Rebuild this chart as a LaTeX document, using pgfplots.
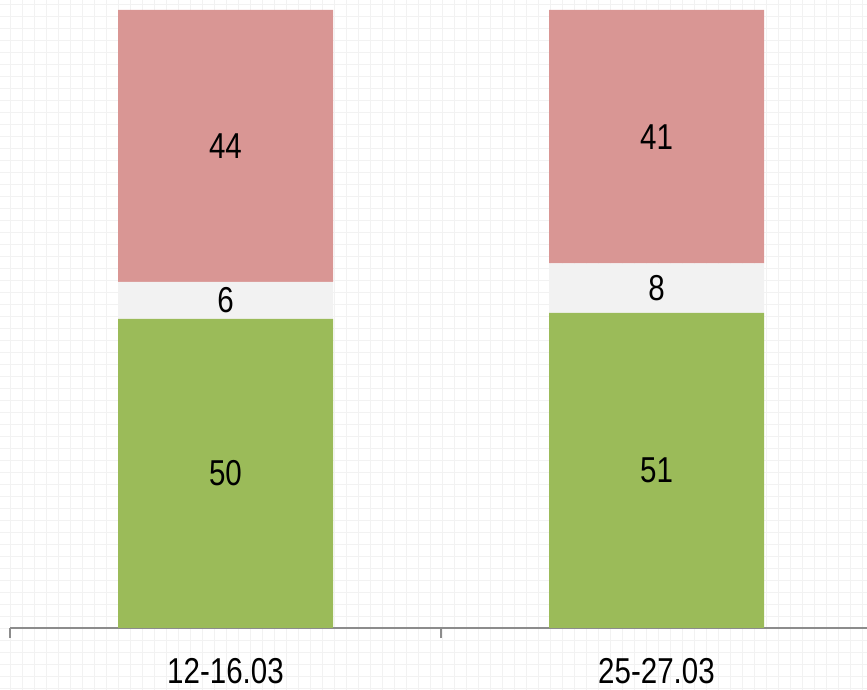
\documentclass[border=0pt]{standalone}
\usepackage{pgfplots}
\pgfplotsset{compat=1.18}
\usepackage{fontspec}
\setmainfont[FakeStretch=0.82]{Liberation Sans}
\definecolor{cgreen}{HTML}{9BBB59}
\definecolor{cgray}{HTML}{F2F2F2}
\definecolor{cpink}{HTML}{D99694}
\definecolor{caxis}{HTML}{8C8C8C}
\begin{document}
\begin{tikzpicture}
% faint paper grid behind everything
\draw[black!5,line width=0.6pt] (-10pt,-62pt) grid[step=12pt] (857pt,628pt);
\begin{axis}[
  scale only axis,width=862pt,height=618pt,
  xmin=0,xmax=2,ymin=0,ymax=100,
  ybar stacked,bar width=215pt,
  axis y line=none,axis x line*=bottom,
  x axis line style={caxis,line width=1.6pt},
  xtick={0.5,1.5},xticklabels={12-16.03,25-27.03},
  minor xtick={0,1,2},
  major tick length=0pt,minor tick length=10pt,tick align=outside,
  every tick/.style={caxis,line width=1.2pt},
  xticklabel style={anchor=base,yshift=-55pt},
  font=\fontsize{36}{40}\selectfont,
  /pgf/number format/assume math mode=true,
  clip=false,
  nodes near coords,
  every node near coord/.append style={anchor=center,font=\fontsize{36}{40}\selectfont,text=black},
]
\addplot[fill=cgreen,draw=none] coordinates {(0.5,50) (1.5,51)};
\addplot[fill=cgray,draw=none] coordinates {(0.5,6) (1.5,8)};
\addplot[fill=cpink,draw=none] coordinates {(0.5,44) (1.5,41)};
\end{axis}
\pgfresetboundingbox
\path[use as bounding box] (-10pt,-62pt) rectangle (857pt,628pt);
\end{tikzpicture}
\end{document}
